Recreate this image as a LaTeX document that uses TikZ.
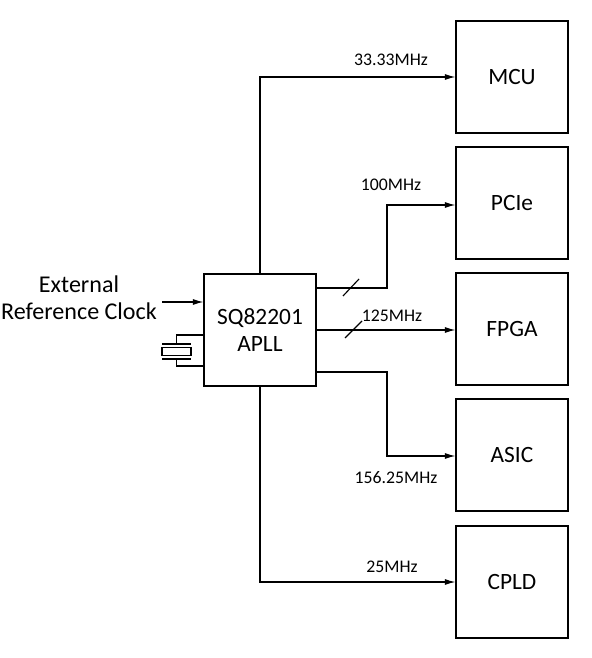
\documentclass[tikz,border=0pt]{standalone}
\usepackage{fontspec}
\setmainfont{Carlito}
\usetikzlibrary{arrows.meta,positioning,calc}
\definecolor{wirecol}{RGB}{0,0,0}
\tikzset{
  blockbox/.style={draw=wirecol,line width=0.7pt,minimum size=2.24cm,inner sep=0pt,font=\fontsize{13.3}{15.3}\selectfont,align=center},
  freqlabel/.style={inner sep=0pt,font=\fontsize{10.1}{12}\selectfont},
  wire/.style={draw=wirecol,line width=0.65pt},
  sigwire/.style={wire,-{Latex[length=2.1mm,width=1.2mm]}},
}
\begin{document}
\begin{tikzpicture}[x=0.02cm,y=-0.02cm]
  \useasboundingbox (0,0) rectangle (591,658);
  % output blocks
  \node[blockbox] (mcu) at (512,77){MCU};
  \node[blockbox] (pcie) at (512,203){PCIe};
  \node[blockbox] (fpga) at (512,329){FPGA};
  \node[blockbox] (asic) at (512,455){ASIC};
  \node[blockbox] (cpld) at (512,582){CPLD};
  \node[blockbox] (apll) at (260,330){SQ82201\\APLL};
  % clock outputs
  \coordinate (pcieout) at (316,288);
  \coordinate (asicout) at (316,372);
  \draw[sigwire] (apll.north) |- (mcu.west);
  \draw[sigwire] (pcieout) -| (387,205) -- (pcie.west |- 387,205);
  \draw[sigwire] (apll.east) -- (fpga.west |- apll.east);
  \draw[sigwire] (asicout) -| (387,456) -- (asic.west |- 387,456);
  \draw[sigwire] (apll.south) |- (cpld.west);
  % bus marks
  \coordinate (slasha) at (343,296);
  \coordinate (slashb) at (359,279);
  \coordinate (slashc) at (345,338);
  \coordinate (slashd) at (362,321);
  \draw[wire] (slasha) -- (slashb);
  \draw[wire] (slashc) -- (slashd);
  % reference input
  \node[inner sep=0pt,font=\fontsize{13.7}{15.4}\selectfont,align=center] (extref) at (79,298){External\\Reference Clock};
  \coordinate (refstart) at (162,302);
  \draw[sigwire] (refstart) -- (apll.west |- refstart);
  % crystal
  \node[draw=wirecol,line width=0.6pt,minimum width=0.58cm,minimum height=0.17cm,inner sep=0pt] (xtal) at (176.5,351.5){};
  \coordinate (xtop) at (176.5,344);
  \coordinate (xbot) at (176.5,359);
  \coordinate (xtopl) at (162,344);
  \coordinate (xtopr) at (191,344);
  \coordinate (xbotl) at (162,359);
  \coordinate (xbotr) at (191,359);
  \coordinate (leada) at (204,335);
  \coordinate (leadb) at (204,366);
  \draw[wire] (xtopl) -- (xtopr);
  \draw[wire] (xbotl) -- (xbotr);
  \draw[wire] (xtop) |- (leada);
  \draw[wire] (xbot) |- (leadb);
  % frequencies
  \node[freqlabel] (fmcu) at (391,60){33.33MHz};
  \node[freqlabel] (fpcie) at (391,185){100MHz};
  \node[freqlabel] (ffpga) at (392,316){125MHz};
  \node[freqlabel] (fasic) at (396,478){156.25MHz};
  \node[freqlabel] (fcpld) at (392,567){25MHz};
\end{tikzpicture}
\end{document}
